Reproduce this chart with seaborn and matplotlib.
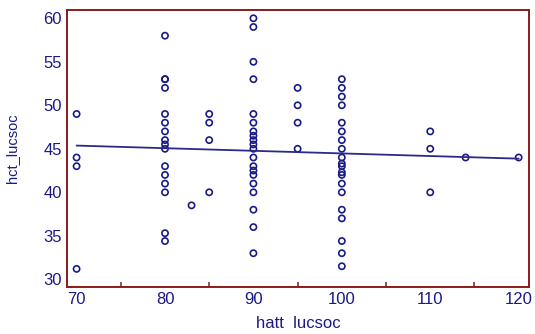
import pandas as pd
import numpy as np
import matplotlib
matplotlib.use("Agg")
import matplotlib.pyplot as plt
import seaborn as sns
from matplotlib.ticker import MultipleLocator

### values, grouped by hatt_lucsoc
hct_70 = [49, 44, 43, 31.2]
hct_80 = [58, 53, 53, 52, 49, 48, 47, 46, 45.5, 45, 43, 42, 41, 40, 35.3, 34.4]
hct_83 = [38.5]
hct_85 = [49, 48, 46, 40]
hct_90 = [60, 59, 55, 53, 49, 48, 47, 46.5, 46, 45.5, 45, 44, 43, 42.5, 42, 41, 40, 38, 36, 33]
hct_95 = [52, 50, 48, 45]
hct_100 = [53, 52, 51, 50, 48, 47, 46, 45, 44, 43.3, 43, 42.3, 42, 41, 40, 38, 37, 34.4, 33, 31.5]
hct_110 = [47, 45, 40]
hct_114 = [44]
hct_120 = [44]

hatt_levels = [70, 80, 83, 85, 90, 95, 100, 110, 114, 120]
hct_groups = [hct_70, hct_80, hct_83, hct_85, hct_90, hct_95, hct_100, hct_110, hct_114, hct_120]

hatt = []
hct = []
for level, vals in zip(hatt_levels, hct_groups):
    hatt += [level] * len(vals)
    hct += vals
df = pd.DataFrame({"hatt_lucsoc": hatt, "hct_lucsoc": hct})

sns.set_style("white")
plt.rcParams['font.family'] = ['Liberation Sans', 'DejaVu Sans']

navy = "#1a1a86"
darkred = "#8b1a1a"

fig = plt.figure(figsize=(5.35, 3.34), dpi=100)
ax = fig.add_axes([0.1258, 0.1416, 0.8635, 0.8284])

sns.regplot(
    data=df, x="hatt_lucsoc", y="hct_lucsoc", ax=ax, ci=None,
    scatter_kws=dict(s=20, facecolors="none", edgecolors=navy, linewidths=1.2, alpha=1),
    line_kws=dict(color="#2a2a8a", lw=1.3),
)

ax.set_xlim(68.95, 121.2)
ax.set_ylim(29.15, 60.95)
ax.xaxis.set_major_locator(MultipleLocator(10))
ax.xaxis.set_minor_locator(MultipleLocator(5))
ax.yaxis.set_major_locator(MultipleLocator(5))

for spine in ax.spines.values():
    spine.set_color(darkred)
    spine.set_linewidth(1.4)

ax.tick_params(axis="x", which="major", direction="in", length=6, width=1.3,
               color=darkred, labelcolor=navy, labelsize=12, pad=4)
ax.tick_params(axis="x", which="minor", direction="in", length=3.5, width=1.1,
               color=darkred, bottom=True)
ax.tick_params(axis="y", which="major", direction="in", length=8, width=1.3,
               color=darkred, labelcolor=navy, labelsize=12, pad=4)

ax.set_xlabel("hatt  lucsoc", color=navy, fontsize=12)
ax.set_ylabel("hct_lucsoc", color=navy, fontsize=10.5)
ax.xaxis.set_label_coords(0.5, -0.105)
ax.yaxis.set_label_coords(-0.105, 0.5)

fig.savefig("out.png", dpi=100)
